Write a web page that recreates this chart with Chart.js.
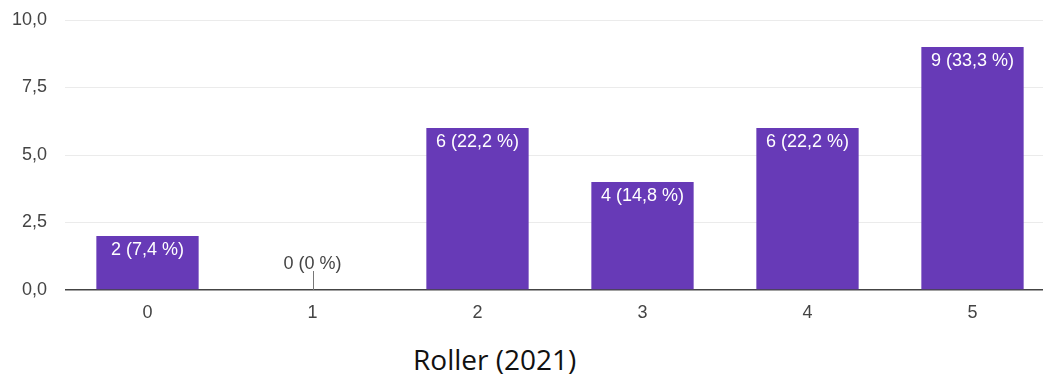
<!DOCTYPE html>
<html>
<head>
<meta charset="utf-8">
<script src="https://cdn.jsdelivr.net/npm/chart.js@4"></script>
<style>
  html, body { margin: 0; padding: 0; background: #fff; overflow: hidden; }
  #wrap { position: absolute; left: 0; top: 0; width: 1055px; height: 330px; }
  #caption {
    position: absolute; left: 413px; top: 342px; line-height: 34px;
    font-family: "Open Sans", Lato, sans-serif; font-size: 28px; color: #111;
    white-space: nowrap;
  }
</style>
</head>
<body>
<div id="wrap"><canvas id="chart" width="1055" height="330"></canvas></div>
<div id="caption">Roller (2021)</div>
<script>
// answers per rating
const categories = ['0', '1', '2', '3', '4', '5'];
const counts = [2, 0, 6, 4, 6, 9];
const yTicks = [0, 2.5, 5, 7.5, 10];

const total = counts.reduce((a, b) => a + b, 0);
const barColor = '#673ab7';
const fontFamily = '"Liberation Sans", Arial, sans-serif';

function pctLabel(v) {
  const p = Math.round(v / total * 1000) / 10;
  return v + ' (' + String(p).replace('.', ',') + ' %)';
}

// value labels: white inside the bar, grey above a small stub for empty bars
const barLabels = {
  id: 'barLabels',
  afterDatasetsDraw(chart) {
    const ctx = chart.ctx;
    const meta = chart.getDatasetMeta(0);
    ctx.save();
    ctx.font = '18px ' + fontFamily;
    ctx.textAlign = 'center';
    ctx.textBaseline = 'middle';
    meta.data.forEach((bar, i) => {
      const v = counts[i];
      if (v > 0) {
        ctx.fillStyle = '#ffffff';
        ctx.fillText(pctLabel(v), bar.x, bar.y + 14);
      } else {
        ctx.strokeStyle = '#777';
        ctx.lineWidth = 1;
        ctx.beginPath();
        ctx.moveTo(Math.round(bar.x) + 0.5, bar.y);
        ctx.lineTo(Math.round(bar.x) + 0.5, bar.y - 19);
        ctx.stroke();
        ctx.fillStyle = '#444';
        ctx.fillText(pctLabel(v), bar.x, bar.y - 26);
      }
    });
    ctx.restore();
  }
};

new Chart(document.getElementById('chart'), {
  type: 'bar',
  data: {
    labels: categories,
    datasets: [{
      data: counts,
      backgroundColor: barColor,
      barPercentage: 0.62,
      categoryPercentage: 1
    }]
  },
  options: {
    responsive: false,
    animation: false,
    layout: { padding: { top: 20, right: 0, bottom: 0, left: 0 } },
    plugins: { legend: { display: false }, tooltip: { enabled: false } },
    scales: {
      x: {
        grid: { display: false, drawTicks: false },
        border: { display: false },
        ticks: { color: '#444', padding: 12, font: { size: 18, family: fontFamily } },
        afterFit(scale) { scale.height = 40; }
      },
      y: {
        min: 0,
        max: 10,
        afterBuildTicks(scale) { scale.ticks = yTicks.map(v => ({ value: v })); },
        grid: {
          drawTicks: false,
          color: c => (c.tick && c.tick.value === 0) ? '#444' : '#ebebeb',
          lineWidth: c => (c.tick && c.tick.value === 0) ? 1.5 : 1
        },
        border: { display: false },
        ticks: {
          color: '#444',
          padding: 18,
          font: { size: 18, family: fontFamily },
          callback: v => v.toFixed(1).replace('.', ',')
        },
        afterFit(scale) {
          scale.width = 65;
          scale.paddingTop = 0;
          scale.paddingBottom = 0;
        }
      }
    }
  },
  plugins: [barLabels]
});
</script>
</body>
</html>
